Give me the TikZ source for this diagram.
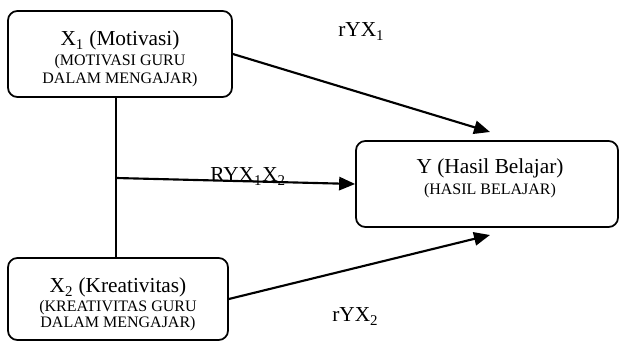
\documentclass[tikz,border=0pt]{standalone}
\usepackage{fontspec}
\setmainfont{Liberation Serif}
\usetikzlibrary{arrows.meta}
\begin{document}
\begin{tikzpicture}[x=0.75pt,y=-0.75pt,
  box/.style={draw,line width=1.3pt,rounded corners=7pt,inner sep=0pt},
  big/.style={font=\fontsize{16}{18}\selectfont,inner sep=0pt,anchor=base},
  small/.style={font=\fontsize{12}{14}\selectfont,inner sep=0pt,anchor=base},
  lbl/.style={font=\fontsize{16}{18}\selectfont,inner sep=0pt,anchor=base west},
  conn/.style={line width=1.6pt},
  arr/.style={conn,-{Triangle[length=12pt,width=10pt]}}]
\useasboundingbox (0,0) rectangle (619,342);
% boxes
\node[box,minimum width=168pt,minimum height=64.5pt] (x1) at (120,54) {};
\node[box,minimum width=165pt,minimum height=61.5pt] (x2) at (118,299) {};
\node[box,minimum width=196.5pt,minimum height=64.5pt] (y) at (487,184) {};
% box texts
\node[big] (x1a) at (120,46) {X\textsubscript{1} (Motivasi)};
\node[small] (x1b) at (120,66) {(MOTIVASI GURU};
\node[small] (x1c) at (120,84) {DALAM MENGAJAR)};
\node[big] (x2a) at (118,293) {X\textsubscript{2} (Kreativitas)};
\node[small] (x2b) at (118,312) {(KREATIVITAS GURU};
\node[small] (x2c) at (118,328) {DALAM MENGAJAR)};
\node[big] (ya) at (490,174) {Y (Hasil Belajar)};
\node[small] (yb) at (490,195) {(HASIL BELAJAR)};
% labels
\node[lbl] (l1) at (338,37) {rYX\textsubscript{1}};
\node[lbl] (l12) at (210,182) {RYX\textsubscript{1}X\textsubscript{2}};
\node[lbl] (l2) at (332,322) {rYX\textsubscript{2}};
% connectors
\coordinate (j) at (116,178);
\coordinate (t1) at (490,132);
\coordinate (t2) at (490,235);
\draw[conn] (j |- x1.south) -- (j |- x2.north);
\draw[arr] (j) -- (y.west);
\draw[arr] (x1.east) -- (t1);
\draw[arr] (x2.east) -- (t2);
\end{tikzpicture}
\end{document}
